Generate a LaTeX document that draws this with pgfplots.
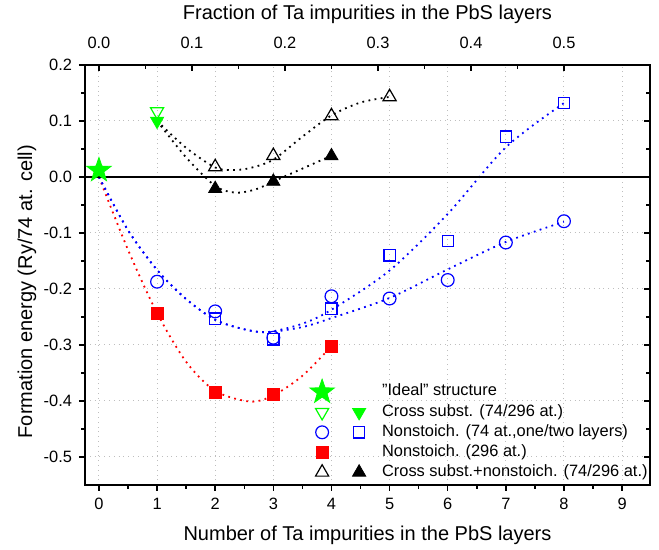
\documentclass[border=0pt]{standalone}
\usepackage{fontspec}
\setmainfont{Liberation Sans}
\usepackage{pgfplots}
\pgfplotsset{compat=1.18}
\usetikzlibrary{plotmarks}

\definecolor{ogreen}{RGB}{0,255,0}
\definecolor{oblue}{RGB}{0,0,255}
\definecolor{ored}{RGB}{255,0,0}
\definecolor{gridc}{RGB}{190,190,190}

% filled five-pointed star
\pgfdeclareplotmark{fstar}{%
  \pgfpathmoveto{\pgfpointpolar{90}{\pgfplotmarksize}}%
  \pgfpathlineto{\pgfpointpolar{126}{0.4\pgfplotmarksize}}%
  \pgfpathlineto{\pgfpointpolar{162}{\pgfplotmarksize}}%
  \pgfpathlineto{\pgfpointpolar{198}{0.4\pgfplotmarksize}}%
  \pgfpathlineto{\pgfpointpolar{234}{\pgfplotmarksize}}%
  \pgfpathlineto{\pgfpointpolar{270}{0.4\pgfplotmarksize}}%
  \pgfpathlineto{\pgfpointpolar{306}{\pgfplotmarksize}}%
  \pgfpathlineto{\pgfpointpolar{342}{0.4\pgfplotmarksize}}%
  \pgfpathlineto{\pgfpointpolar{18}{\pgfplotmarksize}}%
  \pgfpathlineto{\pgfpointpolar{54}{0.4\pgfplotmarksize}}%
  \pgfpathclose
  \pgfusepathqfillstroke}

\tikzset{
  mkStar/.style={ogreen, mark=fstar, mark size=6.4pt, mark options={solid, fill=ogreen}},
  mkDownO/.style={ogreen, mark=triangle, mark size=3.8pt, mark options={solid, rotate=180, line width=0.6pt}},
  mkDownF/.style={ogreen, mark=triangle*, mark size=3.8pt, mark options={solid, rotate=180, fill=ogreen}},
  mkCirc/.style={oblue, mark=o, mark size=3.2pt, mark options={solid, line width=0.6pt}},
  mkSq/.style={oblue, mark=square, mark size=2.8pt, mark options={solid, line width=0.6pt}},
  mkRed/.style={ored, mark=square*, mark size=3pt, mark options={solid, fill=ored}},
  mkTriO/.style={black, mark=triangle, mark size=3.8pt, mark options={solid, line width=0.6pt}},
  mkTriF/.style={black, mark=triangle*, mark size=3.8pt, mark options={solid, fill=black}},
}
\pgfplotsset{
  fit/.style={no markers, smooth, line width=0.9pt, dash pattern=on 0.9pt off 2.2pt, forget plot},
  pts/.style={only marks, forget plot},
}

\begin{document}
\begin{tikzpicture}
\useasboundingbox (-42.5pt,-32.5pt) rectangle (287pt,242.5pt);
\begin{axis}[
  name=main,
  scale only axis, width=282.5pt, height=210pt,
  xmin=-0.24, xmax=9.48, ymin=-0.55, ymax=0.2,
  xtick={0,1,2,3,4,5,6,7,8,9},
  ytick={-0.5,-0.4,-0.3,-0.2,-0.1,0,0.1,0.2},
  minor x tick num=1, minor y tick num=1,
  xtick pos=left, ytick pos=left,
  tick align=outside,
  major tick length=3pt, minor tick length=1.8pt,
  tick style={black, line width=0.75pt},
  axis line style={line width=1pt},
  grid=major, grid style={gridc, dotted, line width=0.5pt},
  tick label style={font=\fontsize{8.2}{10}\selectfont},
  /pgf/number format/assume math mode=true,
  yticklabel style={/pgf/number format/fixed, /pgf/number format/fixed zerofill, /pgf/number format/precision=1},
  xlabel={Number of Ta impurities in the PbS layers},
  ylabel={Formation energy (Ry/74 at. cell)},
  label style={font=\fontsize{10}{12}\selectfont},
  xlabel style={at={(axis description cs:0.5,-0.121)}, anchor=center},
  ylabel style={at={(axis description cs:-0.1027,0.46)}, anchor=center},
  legend style={at={(axis cs:3.63,-0.361)}, anchor=north west, draw=none, fill=none,
    inner sep=0pt, outer sep=0pt, row sep=0pt, column sep=0pt,
    nodes={font=\fontsize{8.2}{10}\selectfont, inner sep=0pt, text height=7pt, text depth=3pt}},
  legend cell align=left,
]
% fitted guide curves (read off the picture)
\addplot[fit, ored] coordinates {(0,0) (0.5,-0.13) (1,-0.243) (1.5,-0.33) (2,-0.382) (2.6,-0.401) (3,-0.39) (3.5,-0.355) (4,-0.302)};
\addplot[fit, oblue] coordinates {(0,0) (0.5,-0.095) (1,-0.166) (1.5,-0.218) (2,-0.255) (2.5,-0.272) (2.9,-0.277) (3.5,-0.262) (4,-0.237) (5,-0.167) (6,-0.066) (7,0.053) (8,0.132)};
\addplot[fit, oblue] coordinates {(0,0) (0.5,-0.095) (1,-0.166) (1.5,-0.218) (2,-0.255) (2.5,-0.272) (2.9,-0.277) (3.5,-0.268) (4,-0.252) (5,-0.216) (6,-0.165) (7,-0.116) (8,-0.08)};
\addplot[fit, black] coordinates {(1,0.1) (1.5,0.052) (2,0.017) (2.3,0.0125) (2.6,0.016) (3,0.031) (3.5,0.072) (4,0.11) (4.5,0.133) (5,0.143)};
\addplot[fit, black] coordinates {(1,0.1) (1.5,0.035) (2,-0.016) (2.35,-0.028) (2.7,-0.022) (3,-0.008) (3.5,0.015) (4,0.038)};
% zero line
\addplot[black, line width=1pt, forget plot] coordinates {(-0.24,0) (9.48,0)};
% data points
\addplot[pts, mkStar] coordinates {(0,0.012)};
\addplot[pts, mkDownO] coordinates {(1,0.117)};
\addplot[pts, mkDownF] coordinates {(1,0.1)};
\addplot[pts, mkCirc] coordinates {(1,-0.187) (2,-0.24) (3,-0.287) (4,-0.213) (5,-0.217) (6,-0.184) (7,-0.117) (8,-0.079)};
\addplot[pts, mkSq] coordinates {(2,-0.253) (3,-0.29) (4,-0.235) (5,-0.14) (6,-0.114) (7,0.072) (8,0.132)};
\addplot[pts, mkRed] coordinates {(1,-0.243) (2,-0.385) (3,-0.388) (4,-0.302)};
\addplot[pts, mkTriO] coordinates {(2,0.018) (3,0.038) (4,0.109) (5,0.143)};
\addplot[pts, mkTriF] coordinates {(2,-0.021) (3,-0.008) (4,0.0375)};
% legend
\addlegendimage{legend image code/.code={\path[draw=none] (-6pt,0) -- (30pt,0); \draw[mkStar] plot coordinates {(0pt,0pt)};}}
\addlegendentry{{\char34}Ideal{\char34} structure}
\addlegendimage{legend image code/.code={\path[draw=none] (-6pt,0) -- (30pt,0); \draw[mkDownO] plot coordinates {(0pt,0pt)}; \draw[mkDownF] plot coordinates {(18.5pt,0pt)};}}
\addlegendentry{Cross subst. (74/296 at.)}
\addlegendimage{legend image code/.code={\path[draw=none] (-6pt,0) -- (30pt,0); \draw[mkCirc] plot coordinates {(0pt,0pt)}; \draw[mkSq] plot coordinates {(18.5pt,0pt)};}}
\addlegendentry{Nonstoich. (74 at.,one/two layers)}
\addlegendimage{legend image code/.code={\path[draw=none] (-6pt,0) -- (30pt,0); \draw[mkRed] plot coordinates {(0pt,0pt)};}}
\addlegendentry{Nonstoich. (296 at.)}
\addlegendimage{legend image code/.code={\path[draw=none] (-6pt,0) -- (30pt,0); \draw[mkTriO] plot coordinates {(0pt,0pt)}; \draw[mkTriF] plot coordinates {(18.5pt,0pt)};}}
\addlegendentry{Cross subst.+nonstoich. (74/296 at.)}
\end{axis}
% top fraction axis and right-hand inward ticks
\begin{axis}[
  scale only axis, width=282.5pt, height=210pt,
  at={(main.south west)}, anchor=south west,
  xmin=-0.015, xmax=0.5925, ymin=-0.55, ymax=0.2,
  axis line style={draw=none},
  xtick pos=right, ytick pos=right, xticklabel pos=right,
  tick align=inside,
  major tick length=3pt, minor tick length=1.8pt,
  tick style={black, line width=0.75pt},
  xtick={0,0.1,0.2,0.3,0.4,0.5}, minor x tick num=1,
  ytick={-0.5,-0.4,-0.3,-0.2,-0.1,0,0.1,0.2}, minor y tick num=1,
  yticklabels={},
  yticklabel style={text opacity=0},
  tick label style={font=\fontsize{8.2}{10}\selectfont},
  /pgf/number format/assume math mode=true,
  xticklabel style={yshift=4.5pt, /pgf/number format/fixed, /pgf/number format/fixed zerofill, /pgf/number format/precision=1},
  xlabel={Fraction of Ta impurities in the PbS layers},
  label style={font=\fontsize{10}{12}\selectfont},
  xlabel style={at={(axis description cs:0.5,1.121)}, anchor=center},
]
\end{axis}
\end{tikzpicture}
\end{document}
